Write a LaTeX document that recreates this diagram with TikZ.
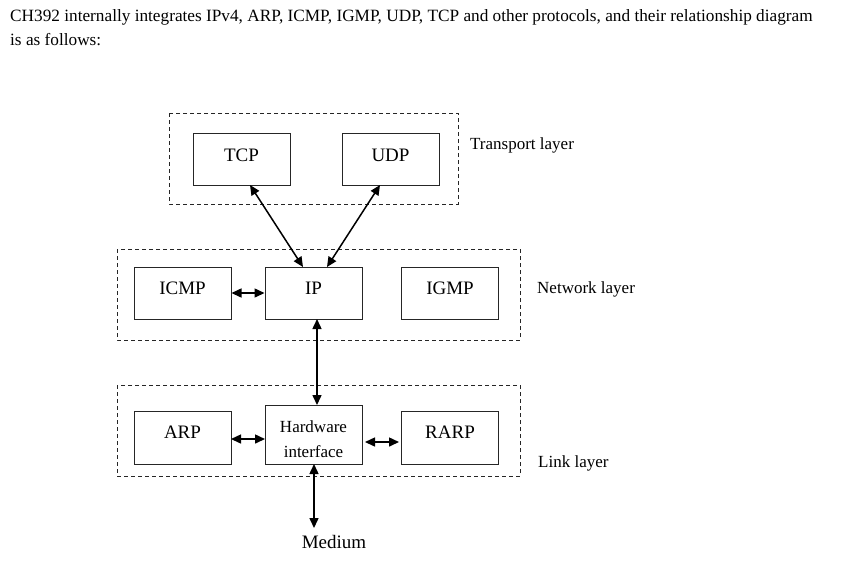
\documentclass[tikz,border=0pt]{standalone}
\usepackage{fontspec}
\setmainfont{Liberation Serif}
\usetikzlibrary{arrows.meta}
\begin{document}
\begin{tikzpicture}[x=1pt,y=-1pt,
  box/.style={draw=black!85,line width=1pt,inner sep=0pt,minimum width=97pt,minimum height=52pt},
  layer/.style={draw=black!85,line width=0.8pt,dash pattern=on 4pt off 3pt},
  lbl/.style={anchor=base,inner sep=0pt,font=\fontsize{19}{22}\selectfont},
  small/.style={anchor=base,inner sep=0pt,font=\fontsize{17}{20}\selectfont},
  side/.style={anchor=base west,inner sep=0pt,font=\fontsize{17}{20}\selectfont},
  conn/.style={line width=1.5pt,{Triangle[length=10pt,width=9pt]}-{Triangle[length=10pt,width=9pt]}}]
\useasboundingbox[fill=white] (0,0) rectangle (851,566);
% title
\node[anchor=base west,inner sep=0pt,font=\fontsize{17.25}{20}\selectfont] (t1) at (10,21) {CH392 internally integrates IPv4, ARP, ICMP, IGMP, UDP, TCP and other protocols, and their relationship diagram};
\node[anchor=base west,inner sep=0pt,font=\fontsize{17.25}{20}\selectfont] (t2) at (10,45) {is as follows:};
% layers
\draw[layer] (169,113) rectangle (458,204);
\draw[layer] (117,249) rectangle (520,340);
\draw[layer] (117,385) rectangle (520,476);
\node[side] (ltr) at (470,149) {Transport layer};
\node[side] (lnw) at (537,293) {Network layer};
\node[side] (llk) at (538,467) {Link layer};
% boxes
\node[box] (tcp) at (241.5,159) {};
\node[box] (udp) at (390.5,159) {};
\node[box] (icmp) at (182.5,293) {};
\node[box] (ip) at (313.5,293) {};
\node[box] (igmp) at (450,293) {};
\node[box,minimum height=53pt] (arp) at (182.5,437.5) {};
\node[box,minimum height=59pt] (hw) at (313.5,434.5) {};
\node[box,minimum height=53pt] (rarp) at (450,437.5) {};
% labels
\node[lbl] (ttcp) at (241.5,161) {TCP};
\node[lbl] (tudp) at (390.5,161) {UDP};
\node[lbl] (ticmp) at (182.5,294) {ICMP};
\node[lbl] (tip) at (313.5,294) {IP};
\node[lbl] (tigmp) at (450,294) {IGMP};
\node[lbl] (tarp) at (182.5,438) {ARP};
\node[lbl] (trarp) at (450,438) {RARP};
\node[small] (thw1) at (313.5,432) {Hardware};
\node[small] (thw2) at (313.5,457) {interface};
\node[lbl] (tmed) at (334,548) {Medium};
\coordinate (med) at (314,528);
% connectors
\draw[conn] (250,185) -- (303,267);
\draw[conn] (380,185) -- (327,267);
\draw[conn] (icmp.east) -- (ip.west);
\draw[conn] (317,319) -- (317,405);
\draw[conn] (231,439) -- (265,439);
\draw[conn] (365,442) -- (399,442);
\draw[conn] (314,464) -- (med);
\end{tikzpicture}
\end{document}
